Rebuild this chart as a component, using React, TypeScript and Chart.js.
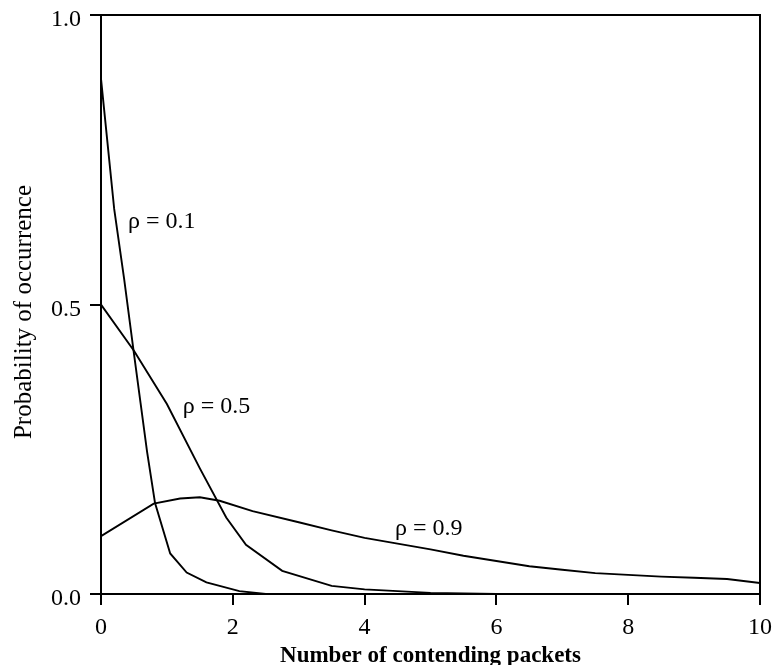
import { useEffect, useRef } from "react";
import { Chart, registerables } from "chart.js";

Chart.register(...registerables);

// Sample positions (number of contending packets) and probabilities for each load
const xRho01 = [0, 0.2, 0.35, 0.5, 0.6, 0.7, 0.82, 1.05, 1.3, 1.6, 2.1, 2.5, 10];
const pRho01 = [0.89, 0.665, 0.545, 0.415, 0.33, 0.245, 0.157, 0.07, 0.037, 0.02, 0.005, 0, 0];

const xRho05 = [0, 0.5, 1, 1.5, 1.9, 2.2, 2.75, 3.5, 4, 5, 6, 10];
const pRho05 = [0.5, 0.42, 0.328, 0.217, 0.132, 0.085, 0.04, 0.014, 0.008, 0.002, 0, 0];

const xRho09 = [0, 0.8, 1.2, 1.5, 1.8, 2.3, 3, 3.5, 4, 4.5, 5, 5.5, 6, 6.5, 7, 7.5, 8, 8.5, 9, 9.5, 10];
const pRho09 = [0.1, 0.156, 0.165, 0.167, 0.161, 0.143, 0.124, 0.11, 0.097, 0.087, 0.077, 0.066, 0.057, 0.048, 0.042, 0.036, 0.033, 0.03, 0.028, 0.026, 0.019];

// Curve captions, anchored in data coordinates (left edge, baseline)
const captionText = ["ρ = 0.1", "ρ = 0.5", "ρ = 0.9"];
const captionX = [0.41, 1.24, 4.46];
const captionY = [0.632, 0.313, 0.102];

const xTitle = "Number of contending packets";
const yTitle = "Probability of occurrence";

const FONT = "'Liberation Serif', 'Times New Roman', serif";

const toPoints = (xs: number[], ys: number[]) => xs.map((x, i) => ({ x, y: ys[i] }));

// Keep edge tick labels from pushing the plot frame inward
const noEdgePadding = (s: any) => {
  s.paddingTop = 0;
  s.paddingBottom = 0;
  s.paddingLeft = 0;
  s.paddingRight = 0;
};

const framePlugin = {
  id: "frame",
  afterDraw(chart: any) {
    const { ctx, chartArea, scales } = chart;
    const { left, right, top, bottom } = chartArea;
    ctx.save();
    ctx.strokeStyle = "#000";
    ctx.lineWidth = 2;
    ctx.strokeRect(left, top, right - left, bottom - top);

    ctx.fillStyle = "#000";
    ctx.font = `24px ${FONT}`;
    ctx.textAlign = "left";
    ctx.textBaseline = "alphabetic";
    captionText.forEach((t, i) => {
      ctx.fillText(t, scales.x.getPixelForValue(captionX[i]), scales.y.getPixelForValue(captionY[i]));
    });

    ctx.font = `bold 23px ${FONT}`;
    ctx.textAlign = "center";
    ctx.fillText(xTitle, (left + right) / 2, 662);

    ctx.font = `25px ${FONT}`;
    ctx.translate(31, 312);
    ctx.rotate(-Math.PI / 2);
    ctx.fillText(yTitle, 0, 0);
    ctx.restore();
  },
};

export default function App() {
  const ref = useRef<HTMLCanvasElement | null>(null);

  useEffect(() => {
    if (!ref.current) return;
    const line = { borderColor: "#000", borderWidth: 1.9, pointRadius: 0, tension: 0, fill: false };
    const chart = new Chart(ref.current, {
      type: "scatter",
      data: {
        datasets: [
          { label: "ρ = 0.1", data: toPoints(xRho01, pRho01), showLine: true, ...line },
          { label: "ρ = 0.5", data: toPoints(xRho05, pRho05), showLine: true, ...line },
          { label: "ρ = 0.9", data: toPoints(xRho09, pRho09), showLine: true, ...line },
        ],
      },
      options: {
        responsive: false,
        animation: false,
        devicePixelRatio: 1,
        layout: { padding: { top: 15, right: 13, left: 0, bottom: 0 } },
        plugins: { legend: { display: false }, tooltip: { enabled: false } },
        scales: {
          x: {
            type: "linear",
            min: 0,
            max: 10,
            border: { display: false },
            grid: { drawOnChartArea: false, drawTicks: true, tickLength: 11, color: "#000", lineWidth: 2 },
            ticks: { stepSize: 2, color: "#000", padding: 8, maxRotation: 0, font: { family: FONT, size: 24 } },
            afterFit: (s: any) => {
              s.height = 71;
              noEdgePadding(s);
            },
          },
          y: {
            type: "linear",
            min: 0,
            max: 1,
            border: { display: false },
            grid: { drawOnChartArea: false, drawTicks: true, tickLength: 11, color: "#000", lineWidth: 2 },
            ticks: {
              stepSize: 0.5,
              color: "#000",
              padding: 9,
              labelOffset: 5,
              font: { family: FONT, size: 24 },
              callback: (v: any) => Number(v).toFixed(1),
            },
            afterFit: (s: any) => {
              s.width = 101;
              noEdgePadding(s);
            },
          },
        },
      },
      plugins: [framePlugin],
    });
    return () => chart.destroy();
  }, []);

  return (
    <div style={{ position: "absolute", left: 0, top: 0, width: 773, height: 665, background: "#fff" }}>
      <canvas ref={ref} width={773} height={665} />
    </div>
  );
}
